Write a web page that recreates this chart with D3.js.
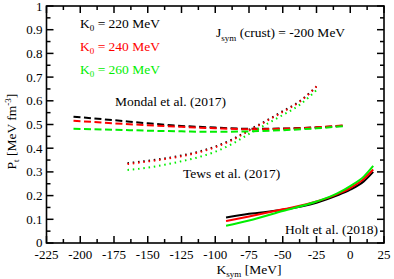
<!DOCTYPE html>
<html>
<head>
<script src="https://d3js.org/d3.v7.min.js"></script>
</head>
<body style="margin: 0; background-color: white;">
<div id="my_dataviz"></div>
<script>
// data
var k0Labels = ["220", "240", "260"];
var colors = ["#000000", "#ff0000", "#00ee00"];

var mondalK = [-205, -175, -150, -125, -100, -75, -50, -25, -5];
var mondal220 = [0.533, 0.518, 0.505, 0.494, 0.487, 0.482, 0.483, 0.488, 0.495];
var mondal240 = [0.516, 0.505, 0.497, 0.490, 0.484, 0.480, 0.482, 0.488, 0.496];
var mondal260 = [0.482, 0.478, 0.474, 0.471, 0.469, 0.471, 0.476, 0.484, 0.493];

var tewsK = [-165, -150, -137.5, -125, -112.5, -100, -87.5, -75, -62.5, -50, -37.5, -25];
var tews220 = [0.337, 0.347, 0.357, 0.369, 0.385, 0.407, 0.437, 0.477, 0.515, 0.556, 0.598, 0.66];
var tews240 = [0.333, 0.344, 0.354, 0.366, 0.382, 0.404, 0.434, 0.474, 0.513, 0.553, 0.596, 0.66];
var tews260 = [0.308, 0.318, 0.330, 0.345, 0.362, 0.385, 0.418, 0.460, 0.500, 0.540, 0.583, 0.645];

var holtK = [-92, -75, -50, -25, -10, 0, 10, 17];
var holt220 = [0.108, 0.123, 0.140, 0.170, 0.200, 0.225, 0.260, 0.300];
var holt240 = [0.093, 0.112, 0.142, 0.175, 0.205, 0.232, 0.270, 0.310];
var holt260 = [0.073, 0.095, 0.135, 0.175, 0.208, 0.240, 0.280, 0.325];

var xTicks = [-225, -200, -175, -150, -125, -100, -75, -50, -25, 0, 25];
var yTicks = [0, 0.1, 0.2, 0.3, 0.4, 0.5, 0.6, 0.7, 0.8, 0.9, 1];

var margin = {top: 6, right: 10, bottom: 36, left: 46.5},
    width = 394 - margin.left - margin.right,
    height = 279 - margin.top - margin.bottom;

var svg = d3.select("#my_dataviz")
  .append("svg")
    .attr("width", 394)
    .attr("height", 279)
    .attr("font-family", "'Liberation Serif', 'Times New Roman', serif")
    .style("display", "block")
  .append("g")
    .attr("transform", "translate(" + margin.left + "," + margin.top + ")");

var x = d3.scaleLinear().domain([-225, 25]).range([0, width]);
var y = d3.scaleLinear().domain([0, 1]).range([height, 0]);

// ticks (inward, all four sides)
var xMinor = d3.range(-225, 25.1, 12.5);
var yMinor = d3.range(0, 1.001, 0.05);
function tickLen(v, majors) { return majors.some(function(m) { return Math.abs(m - v) < 1e-6; }) ? 7 : 4; }

var tk = svg.append("g").attr("stroke", "black").attr("stroke-width", 1.5);
xMinor.forEach(function(v) {
  var l = tickLen(v, xTicks);
  tk.append("line").attr("x1", x(v)).attr("x2", x(v)).attr("y1", height).attr("y2", height - l);
  tk.append("line").attr("x1", x(v)).attr("x2", x(v)).attr("y1", 0).attr("y2", l);
});
yMinor.forEach(function(v) {
  var l = tickLen(v, yTicks);
  tk.append("line").attr("y1", y(v)).attr("y2", y(v)).attr("x1", 0).attr("x2", l);
  tk.append("line").attr("y1", y(v)).attr("y2", y(v)).attr("x1", width).attr("x2", width - l);
});

svg.append("rect").attr("width", width).attr("height", height)
  .attr("fill", "none").attr("stroke", "black").attr("stroke-width", 1.6);

// tick labels
svg.selectAll(".xl").data(xTicks).enter().append("text")
  .attr("x", function(d) { return x(d); }).attr("y", height + 16)
  .attr("text-anchor", "middle").style("font-size", "13px")
  .text(function(d) { return d; });
svg.selectAll(".yl").data(yTicks).enter().append("text")
  .attr("x", -4).attr("y", function(d) { return y(d) + (d === 0 ? 3.5 : 4.5); })
  .attr("text-anchor", "end").style("font-size", "13px")
  .text(function(d) { return d; });

// axis titles
var xt = svg.append("text").attr("x", x(-75)).attr("y", height + 31)
  .attr("text-anchor", "middle").style("font-size", "13.5px");
xt.append("tspan").text("K");
xt.append("tspan").attr("dy", 3).style("font-size", "9px").text("sym");
xt.append("tspan").attr("dy", -3).text(" [MeV]");

var yt = svg.append("text").attr("transform", "translate(" + (-31) + "," + y(0.47) + ") rotate(-90)")
  .attr("text-anchor", "middle").style("font-size", "13.5px");
yt.append("tspan").text("P");
yt.append("tspan").attr("dy", 3).style("font-size", "9px").text("t");
yt.append("tspan").attr("dy", -3).text("  [MeV fm");
yt.append("tspan").attr("dy", -5).style("font-size", "9px").text("-3");
yt.append("tspan").attr("dy", 5).text("]");

// curves
var line = d3.line()
  .x(function(d) { return x(d[0]); })
  .y(function(d) { return y(d[1]); })
  .curve(d3.curveMonotoneX);

function draw(ks, vals, color, dash) {
  svg.append("path")
    .datum(ks.map(function(k, i) { return [k, vals[i]]; }))
    .attr("d", line)
    .attr("fill", "none")
    .attr("stroke", color)
    .attr("stroke-width", 2)
    .attr("stroke-dasharray", dash);
}

var mondal = [mondal220, mondal240, mondal260];
var tews = [tews220, tews240, tews260];
var holt = [holt220, holt240, holt260];
for (var i = 0; i < 3; i++) {
  draw(mondalK, mondal[i], colors[i], "7,3.5");
  draw(tewsK, tews[i], colors[i], "1.5,3.8");
  draw(holtK, holt[i], colors[i], null);
}

// legend
k0Labels.forEach(function(k, i) {
  var t = svg.append("text").attr("x", 80 - margin.left).attr("y", 28 - margin.top + i * 23)
    .attr("fill", colors[i]).style("font-size", "13.5px");
  t.append("tspan").text("K");
  t.append("tspan").attr("dy", 3).style("font-size", "9px").text("0");
  t.append("tspan").attr("dy", -3).text(" = " + k + " MeV");
});

var jt = svg.append("text").attr("x", 216 - margin.left).attr("y", 37 - margin.top)
  .style("font-size", "13.5px");
jt.append("tspan").text("J");
jt.append("tspan").attr("dy", 4).style("font-size", "9px").text("sym");
jt.append("tspan").attr("dy", -4).text(" (crust) = -200 MeV");

svg.append("text").attr("x", 115 - margin.left).attr("y", 106 - margin.top)
  .style("font-size", "13.5px").text("Mondal et al. (2017)");
svg.append("text").attr("x", 183 - margin.left).attr("y", 178 - margin.top)
  .style("font-size", "13.5px").text("Tews et al. (2017)");
svg.append("text").attr("x", 285 - margin.left).attr("y", 234 - margin.top)
  .style("font-size", "13.5px").text("Holt et al. (2018)");
</script>
</body>
</html>
